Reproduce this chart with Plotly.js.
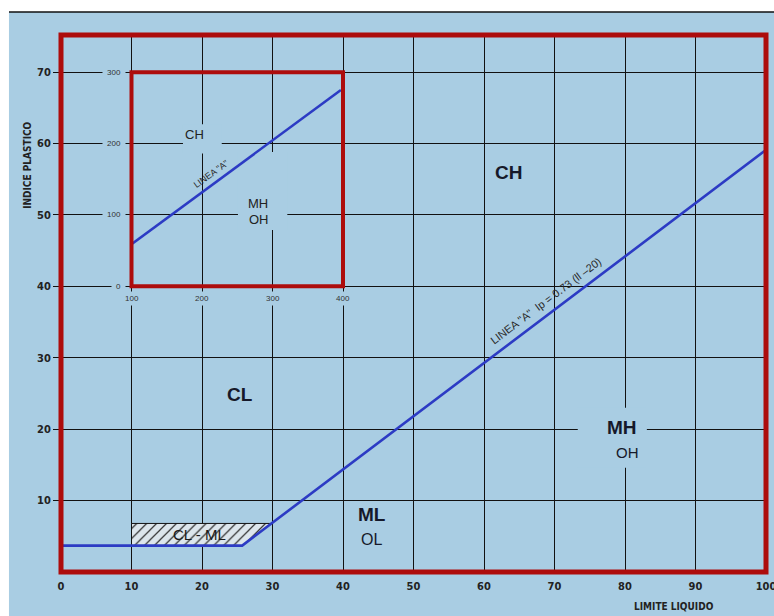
<!DOCTYPE html>
<html>
<head>
<meta charset="utf-8">
<script src="https://cdn.plot.ly/plotly-3.0.1.min.js"></script>
<style>html,body{margin:0;padding:0;background:#fff;}#chart{width:774px;height:616px;}</style>
</head>
<body>
<div id="chart"></div>
<script>
// ---- data ----
const xTicks = [0, 10, 20, 30, 40, 50, 60, 70, 80, 90, 100];
const yTicks = [10, 20, 30, 40, 50, 60, 70];
const aLineLL = [0, 25.7, 100];
const aLineIP = [3.7, 3.7, 59.1];
const hatchLL = [10, 25.7, 29.8, 10, 10];
const hatchIP = [3.7, 3.7, 6.8, 6.8, 3.7];
const insetLL = [100, 397];
const insetIP = [59, 275];
const insetXTicks = [100, 200, 300, 400];
const insetYTicks = [0, 100, 200, 300];
const zoneText = ['<b>CH</b>', '<b>CL</b>', '<b>ML</b>', 'OL', '<b>MH</b>', 'OH'];
const zoneLL = [63.5, 25.4, 44.1, 44.1, 79.6, 80.4];
const zoneIP = [56.0, 24.8, 8.0, 4.5, 20.3, 16.8];
const zoneSize = [19, 19, 19, 16, 19, 15];
const insetZoneText = ['CH', 'MH', 'OH'];
const insetZoneLL = [190, 280, 281];
const insetZoneIP = [212, 116, 94];

const BLUE_BG = '#a9cde3';
const RED = '#ad0c0c';
const LINE_BLUE = '#2c3bc4';
const INK = '#16192a';
const NARROW = 'DejaVu Sans Condensed, Liberation Sans Narrow, Liberation Sans, sans-serif';
const SANS = 'Liberation Sans, Arial, sans-serif';

const traces = [
  {
    x: hatchLL, y: hatchIP, mode: 'lines', fill: 'toself',
    fillcolor: '#dde6ec',
    fillpattern: {shape: '/', bgcolor: '#dde6ec', fgcolor: '#3a3a3a', size: 7, solidity: 0.18},
    line: {color: '#111', width: 1}, hoverinfo: 'skip', showlegend: false
  },
  {
    x: aLineLL, y: aLineIP, mode: 'lines',
    line: {color: LINE_BLUE, width: 2.6}, showlegend: false
  },
  {
    x: insetLL, y: insetIP, xaxis: 'x2', yaxis: 'y2', mode: 'lines',
    line: {color: LINE_BLUE, width: 2.6}, showlegend: false
  }
];

const annotations = [];
zoneText.forEach((t, i) => annotations.push({
  x: zoneLL[i], y: zoneIP[i], xref: 'x', yref: 'y', text: t, showarrow: false,
  font: {family: SANS, size: zoneSize[i], color: INK}
}));
insetZoneText.forEach((t, i) => annotations.push({
  x: insetZoneLL[i], y: insetZoneIP[i], xref: 'x2', yref: 'y2', text: t, showarrow: false,
  font: {family: SANS, size: 13, color: '#222'}
}));
annotations.push({
  x: 19.6, y: 5.2, xref: 'x', yref: 'y', text: 'CL - ML', showarrow: false,
  font: {family: SANS, size: 15, color: '#1a1a1a'}
});
annotations.push({
  x: 68.7, y: 38.0, xref: 'x', yref: 'y', text: 'LINEA "A"  Ip = 0.73 (ll \u201320)',
  showarrow: false, textangle: -37, font: {family: SANS, size: 11, color: '#2a2a2a'}
});
annotations.push({
  x: 213, y: 157, xref: 'x2', yref: 'y2', text: 'LINEA "A"',
  showarrow: false, textangle: -36, font: {family: SANS, size: 9, color: '#2a2a2a'}
});
insetYTicks.forEach(v => annotations.push({
  x: 100, y: v, xref: 'x2', yref: 'y2', text: String(v), showarrow: false,
  xanchor: 'right', xshift: -6, bgcolor: BLUE_BG, borderpad: 4,
  font: {family: SANS, size: 8, color: '#333'}
}));
insetXTicks.forEach(v => annotations.push({
  x: v, y: 0, xref: 'x2', yref: 'y2', text: String(v), showarrow: false,
  yanchor: 'top', yshift: -5, bgcolor: BLUE_BG, borderpad: 2,
  font: {family: SANS, size: 8, color: '#333'}
}));
annotations.push({
  x: -0.047, y: 0.758, xref: 'paper', yref: 'paper', xanchor: 'center', yanchor: 'middle',
  text: '<b>INDICE PLASTICO</b>',
  showarrow: false, textangle: -90, font: {family: NARROW, size: 10, color: '#222'}
});
annotations.push({
  x: 0.869, y: -0.064, xref: 'paper', yref: 'paper', xanchor: 'center', yanchor: 'middle',
  text: '<b>LIMITE LIQUIDO</b>',
  showarrow: false, font: {family: NARROW, size: 10, color: '#222'}
});

const shapes = [
  {type: 'rect', xref: 'paper', yref: 'paper', x0: -0.2, x1: 1.2, y0: 1.0428, y1: 1.2, fillcolor: '#ffffff', line: {width: 0}, layer: 'below'},
  {type: 'rect', xref: 'paper', yref: 'paper', x0: -0.2, x1: -0.0738, y0: -0.2, y1: 1.2, fillcolor: '#ffffff', line: {width: 0}, layer: 'below'},
  {type: 'line', xref: 'paper', yref: 'paper', x0: -0.0738, x1: 1.2, y0: 1.0428, y1: 1.0428, line: {color: '#111', width: 1.5}},
  {type: 'rect', xref: 'x', yref: 'y', x0: 73.3, x1: 83.1, y0: 14.6, y1: 23.0, fillcolor: BLUE_BG, line: {width: 0}, layer: 'between'},
  {type: 'rect', xref: 'x', yref: 'y', x0: 17.3, x1: 22.8, y0: 58.6, y1: 62.7, fillcolor: BLUE_BG, line: {width: 0}, layer: 'between'},
  {type: 'rect', xref: 'x', yref: 'y', x0: 25.1, x1: 32.1, y0: 47.9, y1: 58.8, fillcolor: BLUE_BG, line: {width: 0}, layer: 'between'},
  {type: 'rect', xref: 'x', yref: 'y', x0: 10, x1: 40, y0: 40, y1: 70, line: {color: RED, width: 4}, layer: 'above'},
  {type: 'rect', xref: 'paper', yref: 'paper', x0: 0, x1: 1, y0: 0, y1: 1, line: {color: RED, width: 5}, layer: 'above'}
];

const layout = {
  width: 774, height: 616,
  margin: {l: 61, r: 8, t: 35, b: 44},
  paper_bgcolor: BLUE_BG,
  plot_bgcolor: 'rgba(0,0,0,0)',
  showlegend: false,
  xaxis: {
    range: [0, 100], tickvals: xTicks, ticktext: xTicks.map(String),
    showgrid: true, gridcolor: '#111', gridwidth: 1, zeroline: false, showline: false,
    ticks: 'outside', ticklen: 4, tickcolor: 'rgba(0,0,0,0)', ticklabeloverflow: 'allow',
    tickfont: {family: NARROW, size: 11, color: '#222', weight: 'bold'}
  },
  yaxis: {
    range: [0, 75.2], tickvals: yTicks, ticktext: yTicks.map(String),
    showgrid: true, gridcolor: '#111', gridwidth: 1, zeroline: false, showline: false,
    ticks: 'outside', ticklen: 7, tickcolor: '#111', tickwidth: 1,
    tickfont: {family: NARROW, size: 11, color: '#222', weight: 'bold'}
  },
  xaxis2: {domain: [0.1, 0.4], anchor: 'y2', range: [100, 400], visible: false},
  yaxis2: {domain: [40 / 75.2, 70 / 75.2], anchor: 'x2', range: [0, 300], visible: false},
  shapes: shapes,
  annotations: annotations
};

Plotly.newPlot('chart', traces, layout, {displayModeBar: false, staticPlot: true});
</script>
</body>
</html>
